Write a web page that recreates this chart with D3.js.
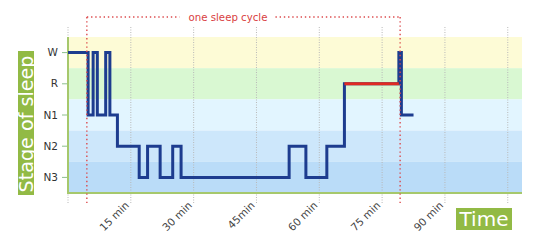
<!DOCTYPE html>
<html>
<head>
<meta charset="utf-8">
<script src="https://cdn.jsdelivr.net/npm/d3@7"></script>
<style>
  body { margin: 0; background: #fff; }
  text { font-family: "DejaVu Sans", Verdana, sans-serif; }
</style>
</head>
<body>
<div id="chart"></div>
<script>
// sleep stages, top to bottom
var stages = ["W", "R", "N1", "N2", "N3"];
var bandColors = ["#fdfbd6", "#d9f8d2", "#e2f5ff", "#cde7fb", "#badcf8"];

// hypnogram: minute where each stage starts
var stageStart = [0, 4.8, 6, 7, 9, 10, 11.8, 17, 19, 22, 25, 27, 52.8, 56.8, 61.8, 66, 79, 79.6];
var stageName  = ["W", "N1", "W", "N1", "W", "N1", "N2", "N3", "N2", "N3", "N2", "N3", "N2", "N3", "N2", "R", "W", "N1"];
var endMinute = 82.5;

// x ticks
var tickMinutes = [0, 15, 30, 45, 60, 75, 90, 105];
var tickLabels  = ["", "15 min", "30 min", "45min", "60 min", "75 min", "90 min", ""];

// one sleep cycle
var cycleStart = 4.5, cycleEnd = 79.3, cycleLabelAt = 38.2;

var W = 539, H = 246;
var svg = d3.select("#chart").append("svg")
  .attr("width", W).attr("height", H);

var x = d3.scaleLinear().domain([0, 108.4]).range([68, 522]);
var y = d3.scaleBand().domain(stages).range([37, 193]);
var yc = function(s) { return y(s) + y.bandwidth() / 2; };

var green = "#92ba45";
var axisGreen = "#a6c86c";

// background bands
svg.selectAll("rect.band").data(stages).enter().append("rect")
  .attr("class", "band")
  .attr("x", x(0)).attr("width", x(108.4) - x(0))
  .attr("y", function(d) { return y(d); })
  .attr("height", y.bandwidth())
  .attr("fill", function(d, i) { return bandColors[i]; });

// dotted gridlines
svg.selectAll("line.grid").data(tickMinutes).enter().append("line")
  .attr("class", "grid")
  .attr("x1", function(d) { return x(d); }).attr("x2", function(d) { return x(d); })
  .attr("y1", 27).attr("y2", 203)
  .attr("stroke", "#b8b8b8").attr("stroke-width", 1)
  .attr("stroke-dasharray", "1,1.5");

// axes lines
svg.append("line")
  .attr("x1", x(0)).attr("x2", x(0)).attr("y1", 37).attr("y2", 194)
  .attr("stroke", axisGreen).attr("stroke-width", 2);
svg.append("line")
  .attr("x1", x(0)).attr("x2", x(108.4)).attr("y1", 193).attr("y2", 193)
  .attr("stroke", axisGreen).attr("stroke-width", 2);

// y ticks + labels
var yt = svg.selectAll("g.ytick").data(stages).enter().append("g")
  .attr("class", "ytick")
  .attr("transform", function(d) { return "translate(0," + yc(d) + ")"; });
yt.append("line").attr("x1", 62).attr("x2", 67)
  .attr("stroke", "#8cbf8c").attr("stroke-width", 1);
yt.append("text").attr("x", 58).attr("dy", "0.35em")
  .attr("text-anchor", "end").attr("font-size", 10.5)
  .attr("fill", "#333").text(function(d) { return d; });

// x tick labels
svg.selectAll("text.xlab").data(tickMinutes).enter().append("text")
  .attr("class", "xlab")
  .attr("transform", function(d) { return "translate(" + (x(d) - 1) + ",206) rotate(-45)"; })
  .attr("text-anchor", "end").attr("font-size", 10.5).attr("fill", "#444")
  .text(function(d, i) { return tickLabels[i]; });

// hypnogram
var pts = stageStart.map(function(t, i) { return [t, stageName[i]]; });
pts.push([endMinute, stageName[stageName.length - 1]]);

var line = d3.line()
  .x(function(d) { return x(d[0]); })
  .y(function(d) { return yc(d[1]); })
  .curve(d3.curveStepAfter);

svg.append("path").attr("d", line(pts))
  .attr("fill", "none").attr("stroke", "#1d3c8f")
  .attr("stroke-width", 3).attr("stroke-linejoin", "miter");

// REM part in red
var remIdx = stageName.indexOf("R");
svg.append("path")
  .attr("d", line([[stageStart[remIdx], "R"], [stageStart[remIdx + 1], "R"]]))
  .attr("fill", "none").attr("stroke", "#e02a22").attr("stroke-width", 3);

// sleep cycle marker
var red = "#dc4a4c";
var cy = 17;
var lbl = svg.append("text")
  .attr("x", x(cycleLabelAt)).attr("y", cy).attr("dy", "0.35em")
  .attr("text-anchor", "middle").attr("font-size", 10.2).attr("fill", "#d9403f")
  .text("one sleep cycle");
var bb = lbl.node().getBBox();
var dots = function(x1, y1, x2, y2) {
  svg.append("line").attr("x1", x1).attr("y1", y1).attr("x2", x2).attr("y2", y2)
    .attr("stroke", red).attr("stroke-width", 1.4).attr("stroke-dasharray", "1.4,2.8");
};
dots(x(cycleStart), cy, bb.x - 9, cy);
dots(bb.x + bb.width + 8, cy, x(cycleEnd), cy);
dots(x(cycleStart), cy, x(cycleStart), 203);
dots(x(cycleEnd), cy, x(cycleEnd), 203);

// titles in green boxes
svg.append("rect").attr("x", 18).attr("y", 51).attr("width", 16).attr("height", 144).attr("fill", green);
svg.append("text")
  .attr("transform", "translate(26.5,124) rotate(-90)")
  .attr("text-anchor", "middle").attr("dy", "0.36em")
  .attr("font-family", "Liberation Sans, Arial, sans-serif")
  .attr("font-size", 19).attr("textLength", 137).attr("lengthAdjust", "spacingAndGlyphs")
  .attr("fill", "#fff").text("Stage of sleep");

svg.append("rect").attr("x", 456).attr("y", 208).attr("width", 56).attr("height", 22).attr("fill", green);
svg.append("text")
  .attr("x", 484).attr("y", 219).attr("dy", "0.36em").attr("text-anchor", "middle")
  .attr("font-family", "Liberation Sans, Arial, sans-serif")
  .attr("font-size", 20).attr("fill", "#fff").text("Time");
</script>
</body>
</html>
